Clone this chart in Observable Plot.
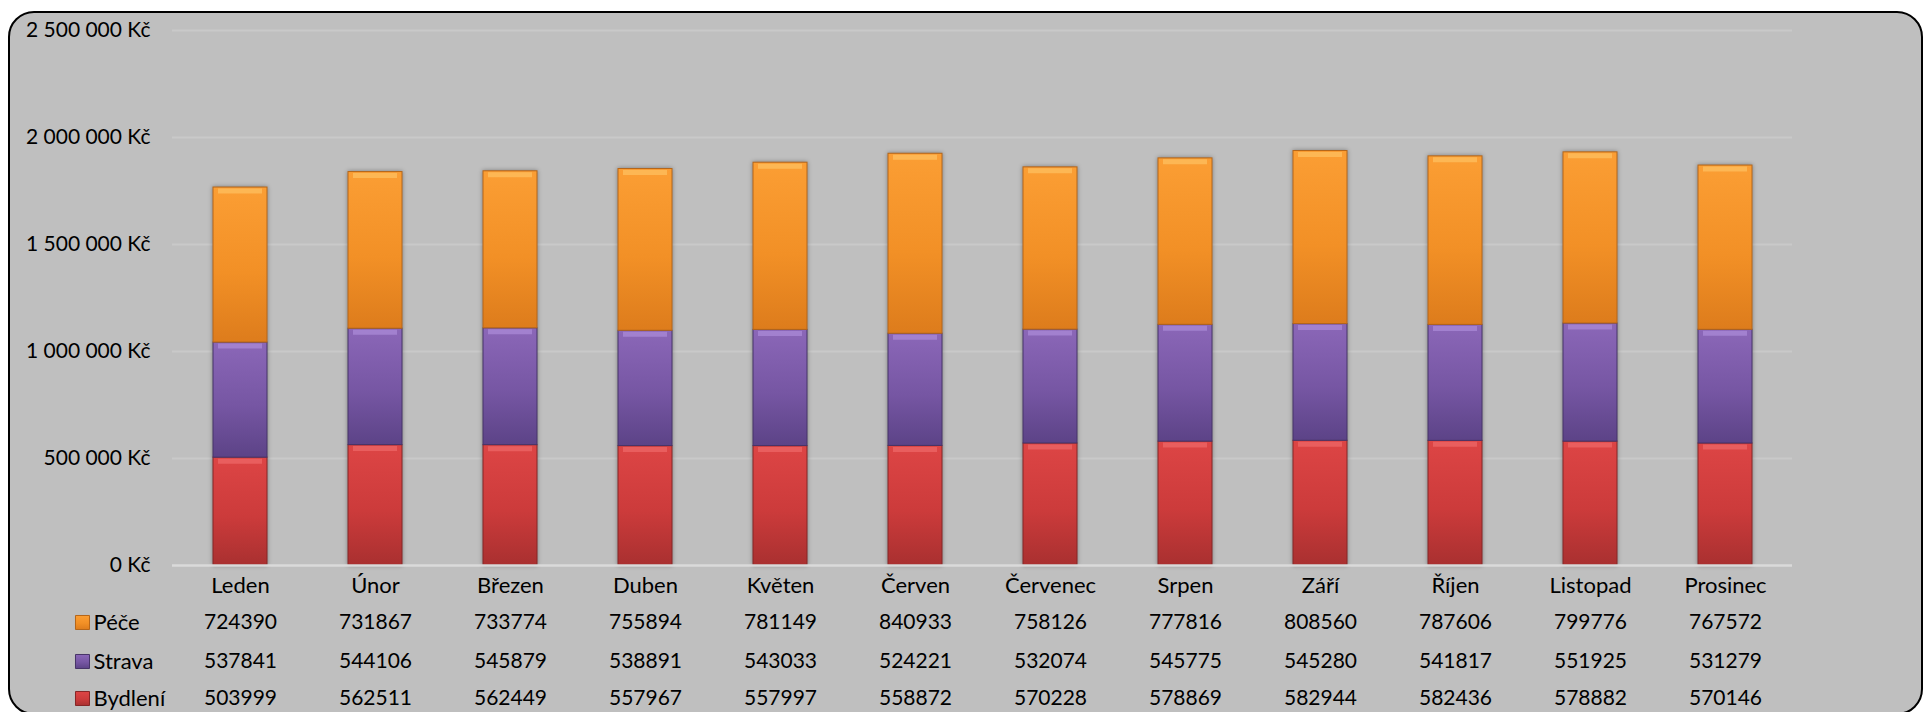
<!DOCTYPE html>
<html><head><meta charset="utf-8">
<script src="https://cdn.jsdelivr.net/npm/d3@7"></script>
<script src="https://cdn.jsdelivr.net/npm/@observablehq/plot@0.6"></script>
<style>
html,body{margin:0;padding:0;background:#fff;width:1923px;height:712px;overflow:hidden;}
#frame{position:absolute;left:8px;top:11px;width:1911px;height:700px;border:2px solid #000;border-radius:26px;background:#bfbfbf;}
#chart{position:absolute;left:0;top:0;}
#chart svg{display:block;}
#chart g[aria-label="bar"]{filter:drop-shadow(0 0 2px rgba(0,0,0,0.35));}
</style></head><body>
<div id="frame"></div>
<div id="chart"></div>
<script>
const months = ["Leden","Únor","Březen","Duben","Květen","Červen","Červenec","Srpen","Září","Říjen","Listopad","Prosinec"];
const seriesNames = ["Péče","Strava","Bydlení"];
const pece    = [724390,731867,733774,755894,781149,840933,758126,777816,808560,787606,799776,767572];
const strava  = [537841,544106,545879,538891,543033,524221,532074,545775,545280,541817,551925,531279];
const bydleni = [503999,562511,562449,557967,557997,558872,570228,578869,582944,582436,578882,570146];
const yTicks = [0,500000,1000000,1500000,2000000,2500000];

const seriesValues = {"Péče": pece, "Strava": strava, "Bydlení": bydleni};
const stackOrder = ["Bydlení","Strava","Péče"];

// styles
const gradId = {"Péče":"gPece","Strava":"gStrava","Bydlení":"gBydleni"};
const gradStops = {
  "Péče":   ["#fb9e34","#f29026","#dd7c1c"],
  "Strava": ["#8b67b8","#7656a3","#5c4387"],
  "Bydlení":["#dd4545","#cc3b3b","#a93030"]
};
const edge = {"Péče":"#b5661a","Strava":"#473468","Bydlení":"#862626"};
const hi = {"Péče":"#ffc86a","Strava":"#b293e0","Bydlení":"#f27070"};

const data = months.flatMap((m,i) => stackOrder.map(s => ({month:m, series:s, value: seriesValues[s][i]})));

const locale = d3.formatLocale({decimal:",", thousands:"\u00a0", grouping:[3], currency:[""," Kč"]});
const fmt = v => locale.format("$,.0f")(v).replace(/\u00a0/g," ");

const defsMark = () => {
  const g = d3.create("svg:defs");
  for (const s of seriesNames) {
    const lg = g.append("linearGradient").attr("id", gradId[s]).attr("x1",0).attr("y1",0).attr("x2",0).attr("y2",1);
    lg.append("stop").attr("offset","0%").attr("stop-color", gradStops[s][0]);
    lg.append("stop").attr("offset","55%").attr("stop-color", gradStops[s][1]);
    lg.append("stop").attr("offset","100%").attr("stop-color", gradStops[s][2]);
  }
  return g.node();
};

const FS = 21;
const FSL = 22;
const rowDy = [57, 96, 133];

const tableMarks = seriesNames.flatMap((s, r) => [
  Plot.text(months.map((m,i) => ({month:m, value: seriesValues[s][i]})), {
    x: "month", text: d => String(d.value), frameAnchor: "bottom", lineAnchor: "middle", dy: rowDy[r], fontSize: FS, fill: "#000"
  }),
  Plot.text([s], {frameAnchor: "bottom-left", lineAnchor: "middle", dx: -79, dy: rowDy[r], textAnchor: "start", fontSize: FSL, fill: "#000"}),
  Plot.dot([s], {frameAnchor: "bottom-left", dx: -90, dy: rowDy[r], symbol: "square", r: 7.9,
    fill: d => `url(#${gradId[d]})`, stroke: d => edge[d], strokeWidth: 1})
]);

const chart = Plot.plot({
  width: 1923,
  height: 712,
  marginLeft: 172,
  marginRight: 131,
  marginTop: 30,
  marginBottom: 147,
  style: {fontFamily: "Lato, 'Open Sans', sans-serif", fontSize: FS + "px", background: "transparent", color: "#000"},
  x: {type: "band", domain: months, paddingInner: 0.6, paddingOuter: 0.3, align: 0.5, axis: null},
  y: {domain: [0, 2500000], axis: null, label: null},
  color: {type: "identity"},
  marks: [
    defsMark,
    Plot.gridY(yTicks.filter(t => t > 0), {stroke: "#c9c9c9", strokeOpacity: 1, strokeWidth: 2}),
    Plot.axisY(yTicks, {tickSize: 0, tickPadding: 22, tickFormat: fmt, fontSize: FS, fill: "#000", label: null}),
    Plot.barY(data, {x: "month", y: "value", z: "series", order: stackOrder,
      fill: d => `url(#${gradId[d.series]})`, stroke: d => edge[d.series], strokeWidth: 1}),
    Plot.tickY(data, Plot.stackY2({x: "month", y: "value", z: "series", order: stackOrder,
      stroke: d => hi[d.series], strokeWidth: 5, strokeOpacity: 0.6, dy: 3.5, insetLeft: 5, insetRight: 5})),
    Plot.ruleY([0], {stroke: "#dadada", strokeWidth: 2.5}),
    Plot.text(months, {x: d => d, frameAnchor: "bottom", lineAnchor: "middle", dy: 20, fontSize: FSL, fill: "#000"}),
    ...tableMarks
  ]
});
document.getElementById("chart").appendChild(chart);
</script>
</body></html>
